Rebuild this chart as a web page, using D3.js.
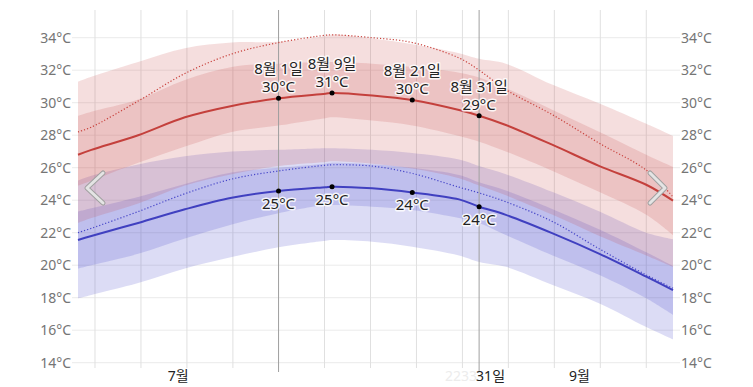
<!DOCTYPE html>
<html>
<head>
<meta charset="utf-8">
<script src="https://cdn.jsdelivr.net/npm/d3@7"></script>
<style>
  body { margin: 0; background: #fff; }
  text { font-family: "Noto Sans", "Noto Sans CJK KR", sans-serif; }
</style>
</head>
<body>
<svg id="chart" width="753" height="387"></svg>
<script>
// Sample dates (month-day) and daily temperatures, in °C.
const dates  = ["07-02","07-04","07-11","07-18","07-25","08-01","08-08","08-09","08-15","08-21","08-28","08-31","09-04","09-11","09-18","09-25","09-29"];
const hiMean = [26.8, 27.1, 28.0, 29.1, 29.8, 30.27, 30.55, 30.6, 30.45, 30.17, 29.55, 29.2, 28.63, 27.4, 26.1, 24.95, 23.97];
const hiFeel = [28.2, 28.5, 30.1, 31.8, 33.0, 33.7, 34.15, 34.18, 34.0, 33.7, 32.75, 32.0, 30.8, 29.25, 27.5, 25.85, 24.2];
const hi90   = [31.3, 31.6, 32.5, 33.35, 33.7, 33.75, 34.1, 34.2, 33.95, 33.6, 33.05, 32.7, 32.4, 31.1, 29.95, 28.7, 27.95];
const hi75   = [29.2, 29.45, 30.2, 31.4, 32.2, 32.4, 32.5, 32.5, 32.4, 32.2, 31.85, 31.55, 30.9, 29.55, 28.2, 26.8, 26.05];
const hi25   = [24.9, 25.2, 26.3, 27.3, 28.2, 28.6, 29.05, 29.1, 28.9, 28.6, 27.95, 27.6, 27.0, 25.8, 24.5, 23.1, 21.85];
const hi10   = [22.6, 22.9, 23.8, 24.9, 25.6, 26.1, 26.35, 26.4, 26.25, 25.95, 25.35, 24.9, 24.3, 23.1, 21.8, 20.6, 19.9];
const loMean = [21.55, 21.8, 22.6, 23.44, 24.15, 24.57, 24.8, 24.83, 24.73, 24.48, 24.05, 23.6, 23.1, 21.96, 20.7, 19.3, 18.47];
const loFeel = [22.0, 22.27, 23.3, 24.4, 25.3, 25.8, 26.15, 26.18, 26.1, 25.65, 24.8, 24.45, 23.9, 22.68, 21.0, 19.4, 18.58];
const lo90   = [25.2, 25.5, 26.2, 26.7, 27.0, 27.1, 27.2, 27.2, 27.1, 26.9, 26.5, 26.1, 25.6, 24.5, 23.3, 22.0, 21.6];
const lo75   = [23.3, 23.5, 24.2, 25.0, 25.7, 26.0, 26.25, 26.3, 26.2, 26.0, 25.55, 25.1, 24.6, 23.45, 22.2, 20.8, 19.95];
const lo25   = [19.8, 20.0, 20.7, 21.65, 22.5, 23.2, 23.7, 23.7, 23.6, 23.4, 22.9, 22.6, 21.86, 20.6, 19.4, 17.96, 16.94];
const lo10   = [17.96, 18.17, 18.9, 19.8, 20.5, 21.1, 21.5, 21.55, 21.45, 21.14, 20.6, 20.2, 19.9, 18.78, 17.65, 16.2, 15.44];

// Highlighted days with their rounded labels.
const markDates = ["08-01", "08-09", "08-21", "08-31"];
const markHi = [30, 31, 30, 29];
const markLo = [25, 25, 24, 24];
const guideDates = ["08-01", "08-31"];

// Axis labels.
const yTicks = [14, 16, 18, 20, 22, 24, 26, 28, 30, 32, 34];
const monthDates = ["07-17", "09-15"];
const monthNames = ["7월", "9월"];

const parseDay = d3.timeParse("%Y-%m-%d");
const day = s => parseDay("2023-" + s);

let svg = d3.select("#chart");
let x = d3.scaleTime()
    .domain([day(dates[0]), day(dates[dates.length - 1])])
    .range([78, 673]);
let y = d3.scaleLinear().domain([14, 34]).range([362.7, 37.7]);

let rows = dates.map((d, i) => ({
    date: day(d),
    hiMean: hiMean[i], hiFeel: hiFeel[i], hi90: hi90[i], hi75: hi75[i], hi25: hi25[i], hi10: hi10[i],
    loMean: loMean[i], loFeel: loFeel[i], lo90: lo90[i], lo75: lo75[i], lo25: lo25[i], lo10: lo10[i]
}));

// Horizontal grid + y labels on both sides.
let gy = svg.append("g");
gy.selectAll("line").data(yTicks).enter().append("line")
    .attr("x1", 72).attr("x2", 680)
    .attr("y1", d => y(d)).attr("y2", d => y(d))
    .attr("stroke", "#ebebeb");
gy.selectAll("text.l").data(yTicks).enter().append("text")
    .attr("class", "l")
    .attr("x", 71).attr("y", d => y(d)).attr("dy", "0.35em")
    .attr("text-anchor", "end").attr("font-size", 14).attr("fill", "#757575")
    .text(d => d + "°C");
gy.selectAll("text.r").data(yTicks).enter().append("text")
    .attr("class", "r")
    .attr("x", 681).attr("y", d => y(d)).attr("dy", "0.35em")
    .attr("text-anchor", "start").attr("font-size", 14).attr("fill", "#757575")
    .text(d => d + "°C");

// Vertical grid, evenly spaced across the range.
let start = x.domain()[0];
let gridDates = d3.range(13).map(i => d3.timeHour.offset(start, Math.round((2.54 + 6.87 * i) * 24)));
svg.append("g").selectAll("line").data(gridDates).enter().append("line")
    .attr("x1", d => x(d)).attr("x2", d => x(d))
    .attr("y1", 10).attr("y2", 368)
    .attr("stroke", "#e0e0e0");

// Bands.
const band = (lo, hi) => d3.area()
    .curve(d3.curveCatmullRom)
    .x(d => x(d.date))
    .y0(d => y(d[lo]))
    .y1(d => y(d[hi]));

let bands = svg.append("g");
bands.append("path").datum(rows).attr("d", band("lo10", "lo90")).attr("fill", "rgba(70,70,200,0.19)");
bands.append("path").datum(rows).attr("d", band("lo25", "lo75")).attr("fill", "rgba(70,70,200,0.19)");
bands.append("path").datum(rows).attr("d", band("hi10", "hi90")).attr("fill", "rgba(200,70,70,0.18)");
bands.append("path").datum(rows).attr("d", band("hi25", "hi75")).attr("fill", "rgba(200,70,70,0.18)");

// Guide lines for the first and last highlighted day.
svg.append("g").selectAll("line").data(guideDates).enter().append("line")
    .attr("x1", d => x(day(d))).attr("x2", d => x(day(d)))
    .attr("y1", 10).attr("y2", 372)
    .attr("stroke", "#a0a0a0");

// Lines.
const line = key => d3.line()
    .curve(d3.curveCatmullRom)
    .x(d => x(d.date))
    .y(d => y(d[key]));

svg.append("path").datum(rows).attr("d", line("hiFeel"))
    .attr("fill", "none").attr("stroke", "#c8413c").attr("stroke-width", 1.2).attr("stroke-dasharray", "1.2,2");
svg.append("path").datum(rows).attr("d", line("loFeel"))
    .attr("fill", "none").attr("stroke", "#4545c8").attr("stroke-width", 1.2).attr("stroke-dasharray", "1.2,2");
svg.append("path").datum(rows).attr("d", line("hiMean"))
    .attr("fill", "none").attr("stroke", "#c4403c").attr("stroke-width", 2);
svg.append("path").datum(rows).attr("d", line("loMean"))
    .attr("fill", "none").attr("stroke", "#4040c0").attr("stroke-width", 2);

// Markers and labels.
let marks = markDates.map((d, i) => {
    let r = rows[dates.indexOf(d)];
    return { date: r.date, hi: r.hiMean, lo: r.loMean, hiText: markHi[i], loText: markLo[i] };
});
const halo = sel => sel
    .attr("stroke", "#fff").attr("stroke-width", 3).attr("stroke-linejoin", "round")
    .attr("stroke-opacity", 0.85)
    .attr("paint-order", "stroke").attr("fill", "#222")
    .attr("font-size", 15).attr("text-anchor", "middle");

let gm = svg.append("g");
gm.selectAll("circle.h").data(marks).enter().append("circle")
    .attr("cx", d => x(d.date)).attr("cy", d => y(d.hi)).attr("r", 2.5).attr("fill", "#000");
gm.selectAll("circle.lo").data(marks).enter().append("circle")
    .attr("cx", d => x(d.date)).attr("cy", d => y(d.lo)).attr("r", 2.5).attr("fill", "#000");
gm.selectAll("text.d").data(marks).enter().append("text")
    .call(halo)
    .attr("x", d => x(d.date)).attr("y", d => y(d.hi) - 24)
    .text(d => (d.date.getMonth() + 1) + "월 " + d.date.getDate() + "일");
gm.selectAll("text.t").data(marks).enter().append("text")
    .call(halo)
    .attr("x", d => x(d.date)).attr("y", d => y(d.hi) - 6)
    .text(d => d.hiText + "°C");
gm.selectAll("text.b").data(marks).enter().append("text")
    .call(halo)
    .attr("x", d => x(d.date)).attr("y", d => y(d.lo) + 18)
    .text(d => d.loText + "°C");

// Bottom labels.
svg.append("g").selectAll("text").data(monthDates).enter().append("text")
    .attr("x", d => x(day(d))).attr("y", 381)
    .attr("text-anchor", "middle").attr("font-size", 14).attr("fill", "#222")
    .text((d, i) => monthNames[i]);
let lastX = x(day(markDates[markDates.length - 1]));
svg.append("text").attr("x", lastX - 2).attr("y", 381)
    .attr("text-anchor", "end").attr("font-size", 14).attr("fill", "#ececec")
    .text("2233");
svg.append("text").attr("x", lastX - 3).attr("y", 381)
    .attr("text-anchor", "start").attr("font-size", 14).attr("fill", "#222")
    .text("31일");

// Navigation chevrons.
const chevron = pts => {
    let p = d3.line()(pts);
    svg.append("path").attr("d", p).attr("fill", "none")
        .attr("stroke", "#a0a0a0").attr("stroke-width", 5)
        .attr("stroke-linecap", "round").attr("stroke-linejoin", "round");
    svg.append("path").attr("d", p).attr("fill", "none")
        .attr("stroke", "#e4e4e4").attr("stroke-width", 3)
        .attr("stroke-linecap", "round").attr("stroke-linejoin", "round");
};
chevron([[103, 173], [87, 188], [103, 203]]);
chevron([[650, 173], [665, 188], [650, 203]]);
</script>
</body>
</html>
